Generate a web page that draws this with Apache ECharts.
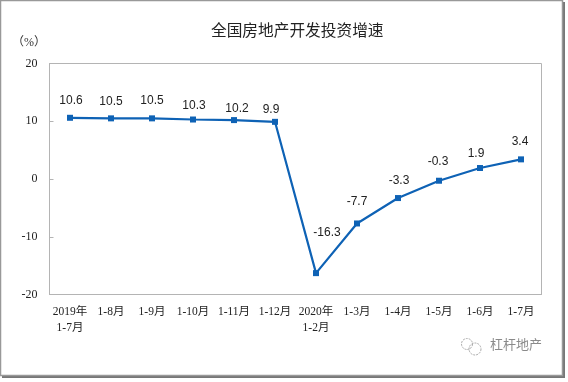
<!DOCTYPE html>
<html><head><meta charset="utf-8">
<script src="https://cdn.jsdelivr.net/npm/echarts@6/dist/echarts.min.js"></script>
<style>html,body{margin:0;padding:0;background:#fff}#c{width:568px;height:382px}</style>
</head><body><div id="c"></div>
<script>
const categories = ['2019年\n1-7月','1-8月','1-9月','1-10月','1-11月','1-12月','2020年\n1-2月','1-3月','1-4月','1-5月','1-6月','1-7月'];
const growth = [10.6,10.5,10.5,10.3,10.2,9.9,-16.3,-7.7,-3.3,-0.3,1.9,3.4];
const labelShift = [[1,-3],[0,-3],[0,-4],[1,0],[3,3],[-4,2],[11,-26],[0,-8],[1,-3],[-1,-5],[-4,0],[-1,-4]];
const sansText = '"Liberation Sans","Noto Sans CJK SC",sans-serif';
const serifText = '"Liberation Serif","Noto Sans CJK SC",serif';
const gray = '#b4b4b4';
const chart = echarts.init(document.getElementById('c'));
chart.setOption({
  animation:false,
  backgroundColor:'#fff',
  graphic:[
    {type:'rect',z:-2,shape:{x:2,y:2,width:563,height:376},style:{fill:'#777'}},
    {type:'rect',z:-1,shape:{x:0.5,y:0.5,width:562,height:375},style:{fill:'#fff',stroke:'#999',lineWidth:1.5}},
    {type:'text',left:12,top:37,style:{text:'（%）',font:'12px '+serifText,fill:'#333'}},
    {type:'text',left:490,top:338,style:{text:'杠杆地产',font:'13px "Noto Sans CJK SC"',fill:'#8a8a8a'}},
    {type:'circle',shape:{cx:467,cy:344,r:5.5},style:{fill:'none',stroke:'#aaa',lineDash:[2,1]}},
    {type:'circle',shape:{cx:475,cy:349,r:6},style:{fill:'none',stroke:'#aaa',lineDash:[2,1]}}
  ],
  title:{text:'全国房地产开发投资增速',left:211,top:22,
    textStyle:{fontFamily:'"Noto Sans CJK SC"',fontSize:15.7,fontWeight:'normal',color:'#222'},
    padding:0,itemGap:0},
  grid:{left:49.5,right:26.5,top:63.5,bottom:87.5,show:true,borderColor:gray,borderWidth:1,backgroundColor:'transparent'},
  xAxis:{type:'category',data:categories,boundaryGap:true,position:'bottom',
    axisLine:{onZero:false,lineStyle:{color:gray}},
    axisTick:{inside:true,length:3,lineStyle:{color:gray}},
    axisLabel:{interval:0,margin:10,fontFamily:serifText,fontSize:11.5,lineHeight:15.5,color:'#222',hideOverlap:false}},
  yAxis:{type:'value',min:-20,max:20,interval:10,
    axisLine:{show:true,lineStyle:{color:gray}},
    axisTick:{show:true,inside:true,length:4,lineStyle:{color:gray}},
    splitLine:{show:false},
    axisLabel:{margin:12,fontFamily:serifText,fontSize:12,color:'#222'}},
  series:[{type:'line',data:growth.map((v,i)=>({value:v,label:{offset:labelShift[i]}})),
    symbol:'rect',symbolSize:6,showAllSymbols:true,
    lineStyle:{color:'#0e62b5',width:2.2},itemStyle:{color:'#0e62b5'},
    label:{show:true,position:'top',distance:5,fontFamily:sansText,fontSize:12,color:'#222',
      formatter:p=>p.value.toFixed(1)}}]
});
</script></body></html>
